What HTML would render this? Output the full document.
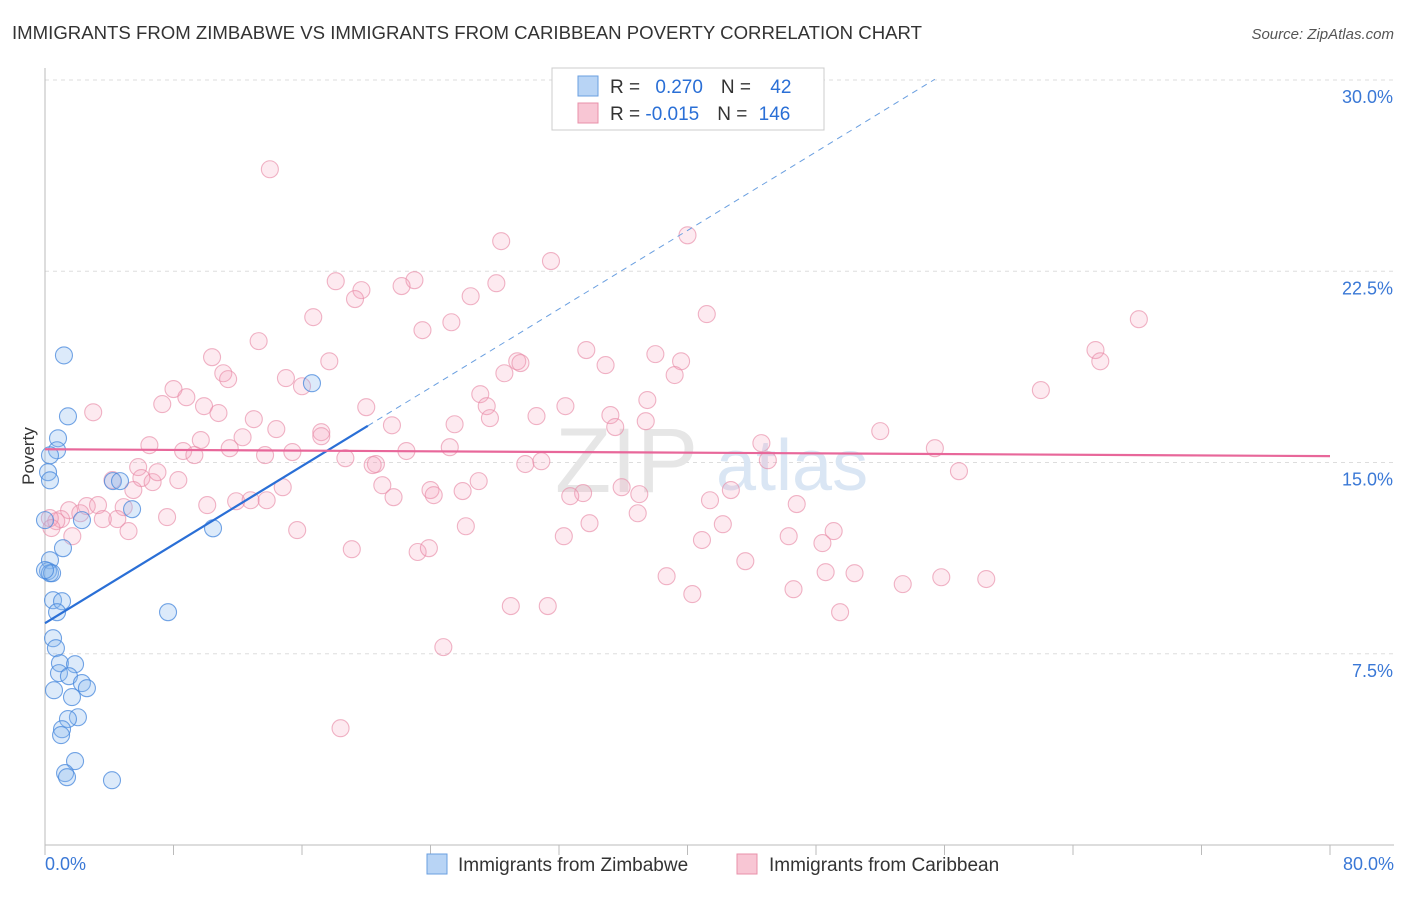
<!DOCTYPE html>
<html><head><meta charset="utf-8"><style>
body{margin:0;background:#fff;font-family:"Liberation Sans",sans-serif;}
svg text{font-family:"Liberation Sans",sans-serif;}
</style></head><body>
<svg id="chart" width="1406" height="892" xmlns="http://www.w3.org/2000/svg">
<text x="12" y="39" font-size="18" fill="#333" textLength="910" lengthAdjust="spacingAndGlyphs">IMMIGRANTS FROM ZIMBABWE VS IMMIGRANTS FROM CARIBBEAN POVERTY CORRELATION CHART</text>
<text x="1394" y="39" font-size="15" fill="#555" font-style="italic" text-anchor="end">Source: ZipAtlas.com</text>
<g id="grid"></g>
<g id="axes"></g>
<text x="555" y="492" font-size="92" fill="#e6e6e6" font-family="Liberation Serif">ZIP</text>
<text x="716" y="490" font-size="72" fill="#dae6f4">atlas</text>
<g id="pts"></g>
<g id="lines"></g>
<text transform="translate(34,456) rotate(-90)" font-size="17" fill="#333" text-anchor="middle">Poverty</text>
<g>
<rect x="552" y="68" width="272" height="62" fill="#fff" stroke="#ccc"/>
<rect x="578" y="76" width="20" height="20" fill="#b8d4f5" stroke="#6a9fe0"/>
<rect x="578" y="103" width="20" height="20" fill="#f8c6d4" stroke="#e890aa"/>
<text x="610" y="93" font-size="19" fill="#333">R = <tspan fill="#2a6fd6" dx="10">0.270</tspan><tspan dx="18">N = </tspan><tspan fill="#2a6fd6" dx="14">42</tspan></text>
<text x="610" y="120" font-size="19" fill="#333">R = <tspan fill="#2a6fd6">-0.015</tspan><tspan dx="18">N = </tspan><tspan fill="#2a6fd6" dx="6">146</tspan></text>
</g>
<g>
<rect x="427" y="854" width="20" height="20" fill="#b8d4f5" stroke="#6a9fe0"/>
<text x="458" y="871" font-size="19" fill="#333">Immigrants from Zimbabwe</text>
<rect x="737" y="854" width="20" height="20" fill="#f8c6d4" stroke="#e890aa"/>
<text x="769" y="871" font-size="19" fill="#333">Immigrants from Caribbean</text>
</g>
</svg>
<script>
const yTicks=[7.5,15,22.5,30];
const yTickLabels=["7.5%","15.0%","22.5%","30.0%"];
const xTickLabels=["0.0%","80.0%"];
const blueX=[1.18,1.43,0.81,0.75,0.19,0.31,4.23,4.67,5.42,2.30,1.12,0.31,0.19,0.31,0.44,0.5,1.06,0.75,7.66,0.5,0.68,0.93,1.87,0.87,1.49,2.3,2.61,0.56,1.68,2.05,1.43,1.06,1.0,1.87,1.25,1.37,4.17,10.46,16.62,0,0,0.31];
const blueY=[19.2,16.81,15.95,15.48,14.62,14.3,14.27,14.27,13.17,12.74,11.64,11.17,10.74,10.66,10.66,9.6,9.56,9.13,9.13,8.11,7.72,7.13,7.09,6.74,6.62,6.35,6.15,6.07,5.8,5.01,4.94,4.54,4.31,3.29,2.82,2.66,2.54,12.42,18.11,12.74,10.78,15.28];
const pinkX=[14.0,28.4,40.0,31.5,18.1,23.0,28.1,19.7,22.2,19.3,26.5,16.7,25.3,41.2,23.5,68.1,13.3,33.7,38.0,29.4,65.4,65.7,10.4,17.7,34.9,39.6,29.6,11.1,15.0,11.4,16.0,28.6,39.2,62.0,8.0,8.8,27.1,7.3,20.0,32.4,37.5,9.9,27.5,3.0,10.8,13.0,21.6,25.5,27.7,30.6,35.2,37.4,35.5,52.0,14.4,17.2,17.2,12.3,6.5,9.7,8.6,9.3,11.5,13.7,15.4,18.7,22.5,25.2,20.6,20.4,44.6,55.4,45.0,29.9,30.9,5.8,56.9,4.2,6.0,6.7,8.3,7.0,14.8,21.0,27.0,5.5,21.7,24.0,24.2,26.0,33.5,35.9,32.7,37.0,42.7,41.4,11.9,12.8,13.8,10.1,2.6,4.9,3.3,1.5,1.0,2.2,4.5,3.6,0.7,0.3,7.6,36.9,46.8,0.4,1.7,5.2,26.2,33.9,42.2,15.7,32.3,40.9,46.3,49.1,48.4,19.1,23.2,23.9,43.6,38.7,48.6,50.4,53.4,55.8,58.6,40.3,46.6,29.0,31.3,49.5,24.8,18.4];
const pinkY=[26.5,23.68,23.91,22.9,22.11,22.15,22.03,21.76,21.92,21.41,21.52,20.7,20.5,20.82,20.19,20.62,19.76,19.41,19.25,18.97,19.41,18.97,19.13,18.97,18.82,18.97,18.9,18.5,18.31,18.27,17.99,18.5,18.43,17.84,17.88,17.56,17.68,17.29,17.17,17.21,17.45,17.21,17.21,16.97,16.94,16.7,16.46,16.5,16.74,16.82,16.86,16.62,16.39,16.23,16.31,16.19,16.03,15.99,15.68,15.88,15.45,15.29,15.56,15.29,15.41,15.17,15.45,15.6,14.94,14.9,15.76,15.56,15.09,14.94,15.05,14.82,14.66,14.31,14.39,14.23,14.31,14.62,14.03,14.11,14.27,13.92,13.64,13.92,13.72,13.88,13.8,14.03,13.68,13.76,13.92,13.52,13.48,13.52,13.52,13.33,13.29,13.25,13.33,13.13,12.78,13.01,12.78,12.78,12.7,12.82,12.86,13.01,13.37,12.43,12.11,12.31,12.5,12.62,12.58,12.35,12.11,11.96,12.11,12.31,11.84,11.6,11.49,11.64,11.13,10.54,10.7,10.66,10.23,10.5,10.43,9.84,10.03,9.37,9.37,9.13,7.76,4.58];
const blueFit=[8.70,0.385];
const pinkFit=[15.52,15.25];
const X0=45,X1=1330,Y0=845,YS=25.5;
function xs(v){return X0+(X1-X0)*v/80;}
function ys(v){return Y0-v*YS;}
const NS="http://www.w3.org/2000/svg";
function mk(t,a,p){const e=document.createElementNS(NS,t);for(const k in a)e.setAttribute(k,a[k]);p.appendChild(e);return e;}
const grid=document.getElementById('grid'),axes=document.getElementById('axes');
yTicks.forEach((t,i)=>{
 const l=mk('line',{x1:X0,x2:1394,y1:ys(t),y2:ys(t),stroke:'#ddd','stroke-dasharray':'4,4'},grid);
 
 
 const tx=mk('text',{x:1393,y:ys(t)+23,'font-size':18,fill:'#3a78d6','text-anchor':'end'},axes);
 tx.textContent=yTickLabels[i];
 
 
});
mk('line',{x1:X0,x2:X0,y1:68,y2:Y0,stroke:'#bbb'},axes);
mk('line',{x1:X0,x2:1394,y1:Y0,y2:Y0,stroke:'#bbb'},axes);
for(let i=0;i<=10;i++){mk('line',{x1:xs(i*8),x2:xs(i*8),y1:Y0,y2:Y0+10,stroke:'#bbb'},axes);}
[[0,'start',45],[80,'end',1394]].forEach((d,i)=>{
 const tx=mk('text',{x:d[2],y:870,'font-size':18,fill:'#3a78d6','text-anchor':d[1]},axes);
 tx.textContent=xTickLabels[i];
 
 
});
const pts=document.getElementById('pts');
pinkX.forEach((x,i)=>{
 const c=mk('circle',{cx:xs(x),cy:ys(pinkY[i]),r:8.5,fill:'rgba(244,160,185,0.22)',stroke:'rgba(232,140,168,0.65)','stroke-width':1.1},pts);
 
 
});
blueX.forEach((x,i)=>{
 const c=mk('circle',{cx:xs(x),cy:ys(blueY[i]),r:8.5,fill:'rgba(140,185,240,0.3)',stroke:'rgba(70,135,220,0.75)','stroke-width':1.1},pts);
 
 
});
const lines=document.getElementById('lines');
const bx1=20.1,bx2=55.4;
const bl=mk('line',{x1:xs(0),y1:ys(blueFit[0]),x2:xs(bx1),y2:ys(blueFit[0]+blueFit[1]*bx1),stroke:'#2a6fd6','stroke-width':2.2},lines);


const bd=mk('line',{x1:xs(bx1),y1:ys(blueFit[0]+blueFit[1]*bx1),x2:xs(bx2),y2:ys(blueFit[0]+blueFit[1]*bx2),stroke:'#6a9fe0','stroke-width':1,'stroke-dasharray':'6,5'},lines);


const pl=mk('line',{x1:xs(0),y1:ys(pinkFit[0]),x2:xs(80),y2:ys(pinkFit[1]),stroke:'#e8679a','stroke-width':2.2},lines);


</script>
</body></html>
